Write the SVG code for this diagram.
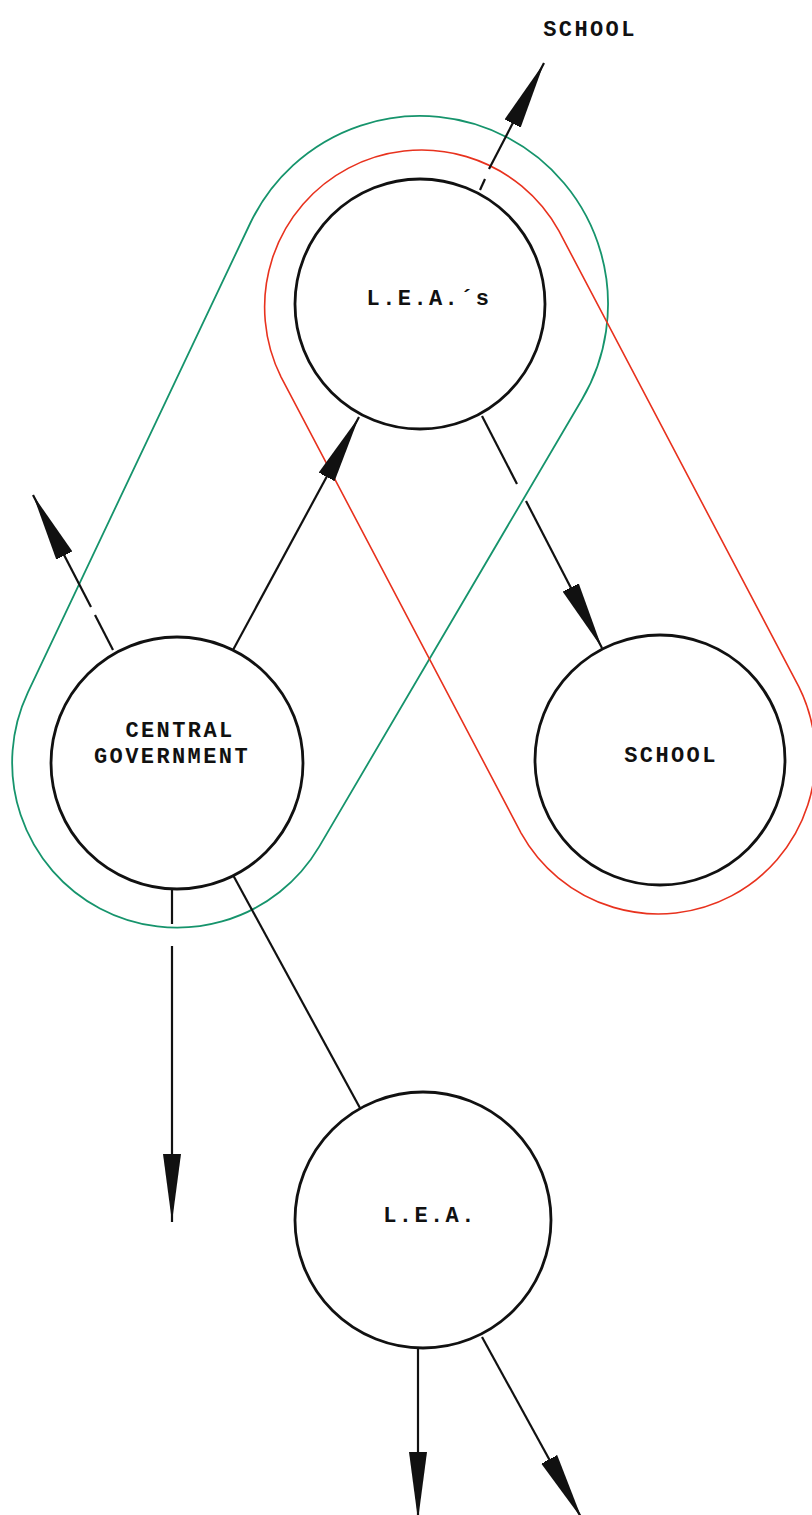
<svg xmlns="http://www.w3.org/2000/svg" width="812" height="1515" viewBox="0 0 812 1515">
<style>
.node{fill:#fff;stroke:#111;stroke-width:2.8}
.lbl{font-family:"Liberation Mono","DejaVu Sans Mono",monospace;font-size:22px;font-weight:bold;letter-spacing:2.4px;fill:#111;text-anchor:middle}
.conn{stroke:#111;stroke-width:2.2;fill:none}
.green{fill:none;stroke:#16946c;stroke-width:1.8}
.red{fill:none;stroke:#e8321e;stroke-width:1.6}
</style>
<defs>
<marker id="ah" markerUnits="userSpaceOnUse" viewBox="0 0 68 20" refX="68" refY="10" markerWidth="68" markerHeight="20" orient="auto">
<path d="M0,1 Q-2,10 0,19 L68,10 Z" fill="#111"/>
</marker>
</defs>
<rect width="812" height="1515" fill="#fff"/>
<g id="groupings">
<path class="green" d="M250.1,223.5 A188,188 0 1 1 582.1,399.2 L319.2,846.6 A165,165 0 0 1 27.9,692.3 Z"/>
<path class="red" d="M281.1,377.1 A157,157 0 0 1 558.9,230.9 L798.9,686.9 A157,157 0 0 1 521.1,833.1 Z"/>
</g>
<g id="connectors">
<path class="conn" d="M480,190 L485,179"/>
<path class="conn" d="M489,169 L544,63" marker-end="url(#ah)"/>
<path class="conn" d="M113,650 L95,615"/>
<path class="conn" d="M91,607 L33,495" marker-end="url(#ah)"/>
<path class="conn" d="M233,650 L359,417" marker-end="url(#ah)"/>
<path class="conn" d="M482,416 L517,484"/>
<path class="conn" d="M526,501 L602,648" marker-end="url(#ah)"/>
<path class="conn" d="M172,889 L172,924"/>
<path class="conn" d="M172,946 L172,1222" marker-end="url(#ah)"/>
<path class="conn" d="M233,875 L360,1108"/>
<path class="conn" d="M418,1348 L418,1520" marker-end="url(#ah)"/>
<path class="conn" d="M482,1337 L582,1519" marker-end="url(#ah)"/>
</g>
<g id="school-top">
<text class="lbl" x="590" y="36">SCHOOL</text>
</g>
<g id="leas">
<circle class="node" cx="420" cy="304" r="125"/>
<text class="lbl" x="429" y="305">L.E.A.´s</text>
</g>
<g id="central-government">
<circle class="node" cx="177" cy="763" r="126"/>
<text class="lbl" x="180" y="737">CENTRAL</text>
<text class="lbl" x="172" y="763">GOVERNMENT</text>
</g>
<g id="school">
<circle class="node" cx="660" cy="760" r="125"/>
<text class="lbl" x="671" y="762">SCHOOL</text>
</g>
<g id="lea">
<circle class="node" cx="423" cy="1220" r="128"/>
<text class="lbl" x="430" y="1222">L.E.A.</text>
</g>
</svg>
